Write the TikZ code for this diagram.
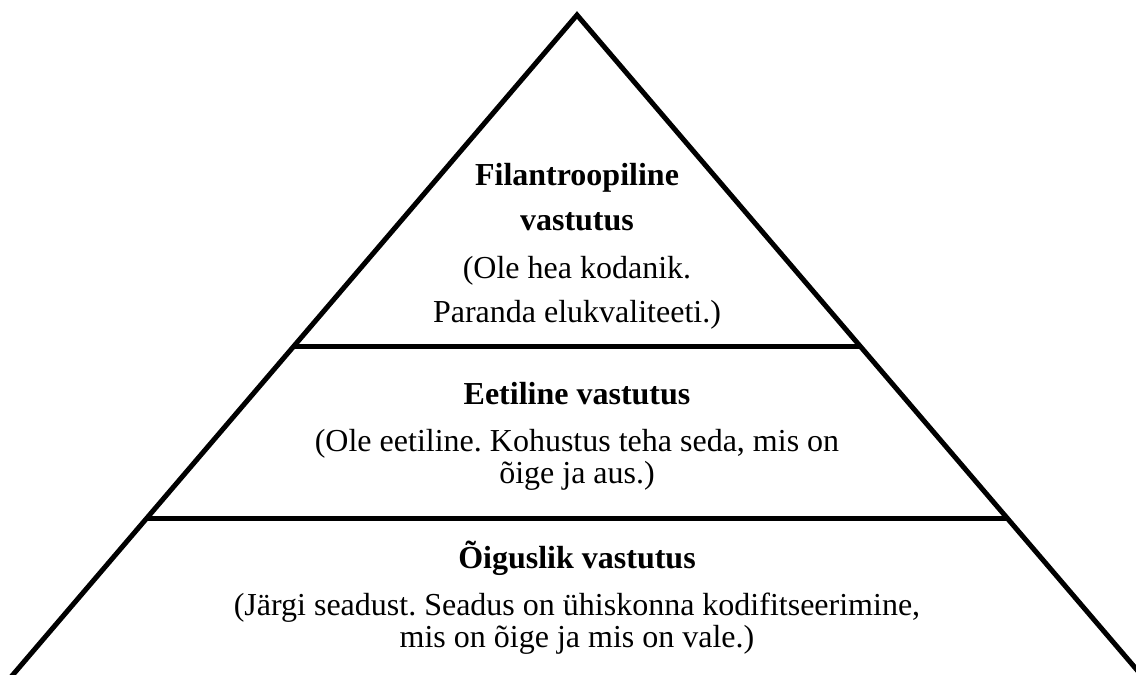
\documentclass[tikz,border=0pt]{standalone}
\usepackage{fontspec}
\setmainfont{Liberation Serif}
\usetikzlibrary{calc}
\frenchspacing
\begin{document}
\frenchspacing
\begin{tikzpicture}[x=1pt,y=-1pt,
  pyr/.style={line width=5pt,line join=miter,black},
  txt/.style={anchor=base,inner sep=0pt,font=\fontsize{32}{38}\selectfont},
  ttl/.style={txt,font=\fontsize{32}{38}\selectfont\bfseries}]
\useasboundingbox (0,0) rectangle (1136,675);
\fill[white] (0,0) rectangle (1136,675);
\begin{scope}
\clip (0,0) rectangle (1136,675);
\coordinate (A) at (577,15);
\coordinate (L) at (-4.4,695);
\coordinate (R) at (1158.4,695);
\coordinate (h1l) at ($(A)!0.4868!(L)$);
\coordinate (h1r) at ($(A)!0.4868!(R)$);
\coordinate (h2l) at ($(A)!0.7397!(L)$);
\coordinate (h2r) at ($(A)!0.7397!(R)$);
\draw[pyr] (L) -- (A) -- (R);
\draw[pyr] (h1l) -- (h1r);
\draw[pyr] (h2l) -- (h2r);
\end{scope}
\node[ttl] (f1) at (577,185) {Filantroopiline};
\node[ttl] (f2) at (577,230) {vastutus};
\node[txt] (f3) at (577,278) {(Ole hea kodanik.};
\node[txt] (f4) at (577,322) {Paranda elukvaliteeti.)};
\node[ttl] (e1) at (577,404) {Eetiline vastutus};
\node[txt] (e2) at (577,451) {(Ole eetiline. Kohustus teha seda, mis on};
\node[txt] (e3) at (577,483) {õige ja aus.)};
\node[ttl] (o1) at (577,568) {Õiguslik vastutus};
\node[txt] (o2) at (577,615) {(Järgi seadust. Seadus on ühiskonna kodifitseerimine,};
\node[txt] (o3) at (577,647) {mis on õige ja mis on vale.)};
\end{tikzpicture}
\end{document}
